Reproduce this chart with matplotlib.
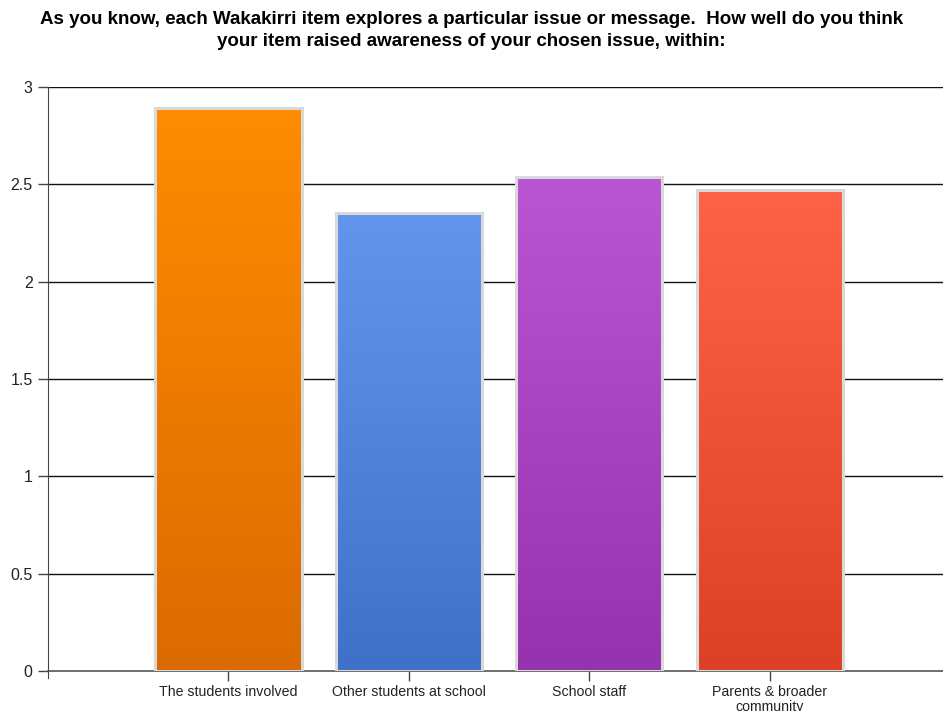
import matplotlib.pyplot as plt
import matplotlib.colors as mcolors
import numpy as np

plt.rcParams['font.family'] = ['Liberation Sans', 'DejaVu Sans']

# Chart data
categories = ['The students involved', 'Other students at school',
              'School staff', 'Parents & broader\ncommunity']
values = [2.89, 2.35, 2.54, 2.47]
top_colors = ['#FF8C00', '#6495ED', '#BA55D3', '#FF6347']
bottom_colors = ['#DB6A00', '#4170C8', '#9632AE', '#DC4125']
y_ticks = [0, 0.5, 1, 1.5, 2, 2.5, 3]
y_labels = ['0', '0.5', '1', '1.5', '2', '2.5', '3']

title = ('As you know, each Wakakirri item explores a particular issue or message.  How well do you think\n'
         'your item raised awareness of your chosen issue, within:')

fig = plt.figure(figsize=(9.43, 7.11), dpi=100)
ax = fig.add_axes([0.0509, 0.0563, 0.9491, 0.8214])

x = np.arange(1, len(categories) + 1)
width = 0.81

# grid lines behind bars
for yv in y_ticks[1:]:
    ax.axhline(yv, color='#111111', lw=1.0, zorder=0)

bars = ax.bar(x, values, width=width, color='none', edgecolor='#D9D9D9',
              linewidth=2.2, zorder=3)

# vertical gradient fill clipped to each bar
for b, top, bot in zip(bars, top_colors, bottom_colors):
    x0, w, h = b.get_x(), b.get_width(), b.get_height()
    c1 = np.array(mcolors.to_rgb(top))
    c2 = np.array(mcolors.to_rgb(bot))
    t = np.linspace(0, 1, 256)[:, None]
    grad = (c1 * (1 - t) + c2 * t)[:, None, :]
    im = ax.imshow(grad, extent=(x0, x0 + w, 0, h), origin='upper',
                   aspect='auto', zorder=2, interpolation='bilinear')
    im.set_clip_path(b)

ax.set_xlim(0, 4.96)
ax.set_ylim(0, 3)

ax.set_xticks(x)
ax.set_xticklabels(categories, fontsize=10.2, color='#222222', linespacing=1.1)
ax.set_yticks(y_ticks)
ax.set_yticklabels(y_labels, fontsize=11.5, color='#222222')
ax.tick_params(axis='both', length=7, width=1.0, color='#444444', pad=4)
ax.tick_params(axis='x', pad=3)

for s in ['top', 'right']:
    ax.spines[s].set_visible(False)
ax.spines['left'].set_color('#444444')
ax.spines['bottom'].set_color('#555555')
ax.spines['bottom'].set_linewidth(1.2)
ax.spines['left'].set_bounds(-0.035, 3)
ax.spines['left'].set_zorder(4)

fig.text(0.5, 0.984, title, ha='center', va='top', fontsize=13.5,
         fontweight='bold', linespacing=1.33)

fig.savefig('out.png', dpi=100)
